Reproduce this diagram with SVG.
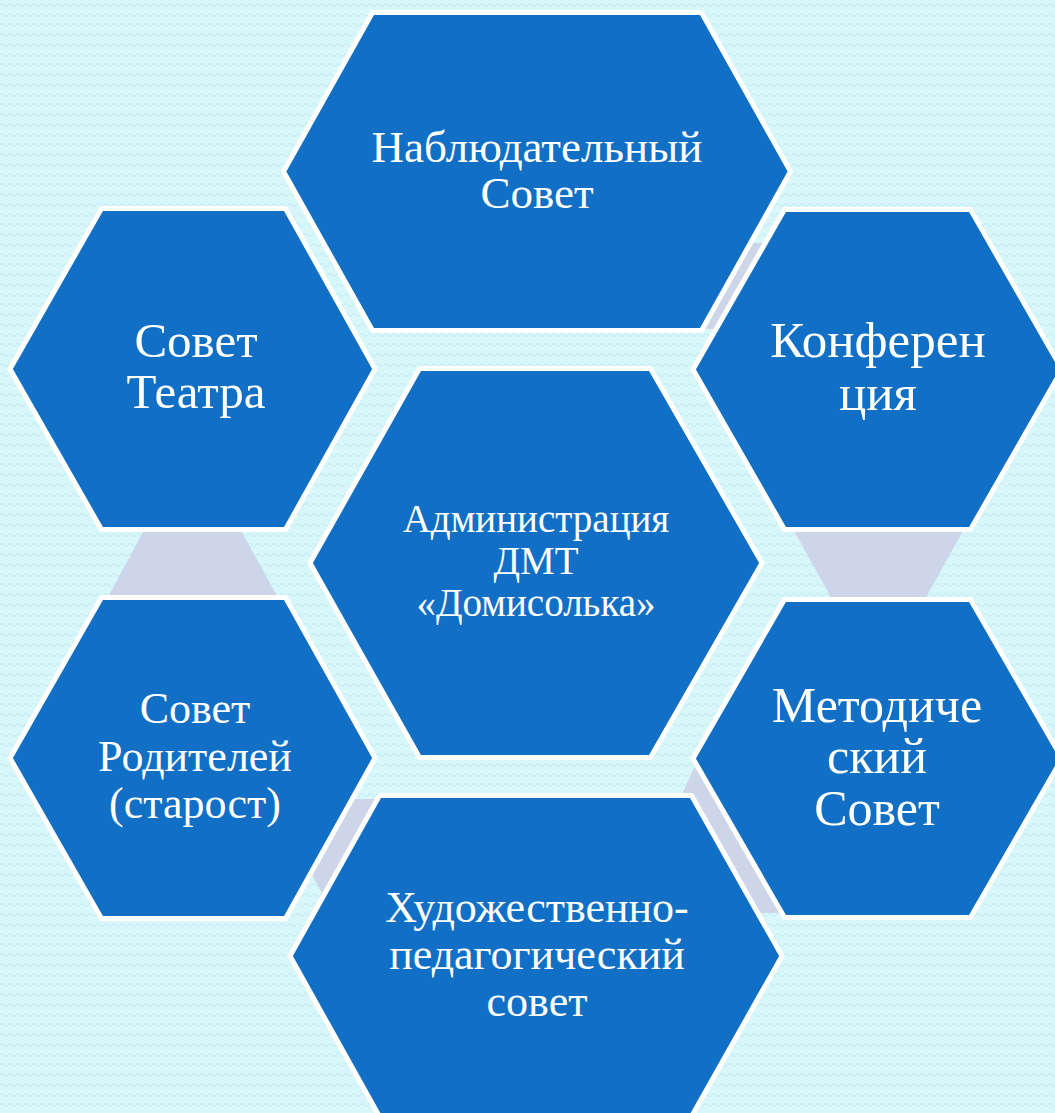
<svg xmlns="http://www.w3.org/2000/svg" width="1055" height="1113" viewBox="0 0 1055 1113">
<defs>
<pattern id="wave" width="8" height="10" patternUnits="userSpaceOnUse">
<rect width="8" height="10" fill="#D7F7FB"/>
<path d="M0,5 Q2,2 4,5 T8,5" fill="none" stroke="#C6EDF3" stroke-width="1.2"/>
</pattern>
<style>
.hex{fill:#1170C6;stroke:#FFFFFF;stroke-width:5;stroke-linejoin:miter}
.con{fill:#CDD5E8;stroke:none}
.t{font-family:"Liberation Serif","DejaVu Serif",serif;fill:#FFFFFF;text-anchor:middle}
</style>
</defs>
<rect width="1055" height="1113" fill="url(#wave)"/>
<g id="connectors">
<polygon class="con" points="149.5,520 235,520 285,610 101,610"/>
<polygon class="con" points="788,520 969,520 919,610 838,610"/>
<polygon class="con" points="748,243 775,243 720,329 693,329"/>
<polygon class="con" points="345,799 395,799 326,901 309.6,870"/>
<polygon class="con" points="698,759 678,803 755,913 790,913"/>
</g>
<g id="node-top">
<polygon class="hex" points="372.5,12.5 701.5,12.5 790.5,171.5 701.5,330.5 372.5,330.5 283.5,171.5"/>
<text class="t" font-size="45" x="537" y="162">Наблюдательный</text>
<text class="t" font-size="45" x="537" y="208">Совет</text>
</g>
<g id="node-teatr">
<polygon class="hex" points="101.5,208.5 285.5,208.5 375,369 285.5,529.5 101.5,529.5 10,369"/>
<text class="t" font-size="49" x="196" y="357">Совет</text>
<text class="t" font-size="49" x="196" y="408">Театра</text>
</g>
<g id="node-konf">
<polygon class="hex" points="784.5,209.5 970.5,209.5 1062,369.5 970.5,529.5 784.5,529.5 693,369.5"/>
<text class="t" font-size="51" x="878" y="357">Конферен</text>
<text class="t" font-size="51" x="878" y="410">ция</text>
</g>
<g id="node-roditeli">
<polygon class="hex" points="101.5,597.5 285.5,597.5 375,758 285.5,918.5 101.5,918.5 10,758"/>
<text class="t" font-size="44" x="195" y="723">Совет</text>
<text class="t" font-size="44" x="195" y="771">Родителей</text>
<text class="t" font-size="44" x="195" y="818">(старост)</text>
</g>
<g id="node-metod">
<polygon class="hex" points="784.5,599.5 970.5,599.5 1062,758.5 970.5,917.5 784.5,917.5 693,758.5"/>
<text class="t" font-size="50" x="877" y="722">Методиче</text>
<text class="t" font-size="50" x="877" y="773">ский</text>
<text class="t" font-size="50" x="877" y="825">Совет</text>
</g>
<g id="node-hud">
<polygon class="hex" points="379.5,795.5 691.5,795.5 782,956 691.5,1116.5 379.5,1116.5 290,956"/>
<text class="t" font-size="44" x="537" y="922">Художественно-</text>
<text class="t" font-size="44" x="537" y="969">педагогический</text>
<text class="t" font-size="44" x="537" y="1016">совет</text>
</g>
<g id="node-center">
<polygon class="hex" points="419.5,368.5 650.5,368.5 762,563 650.5,757.5 419.5,757.5 310,563"/>
<text class="t" font-size="39" x="536" y="532">Администрация</text>
<text class="t" font-size="39" x="536" y="574">ДМТ</text>
<text class="t" font-size="39" x="536" y="616">«Домисолька»</text>
</g>
</svg>
